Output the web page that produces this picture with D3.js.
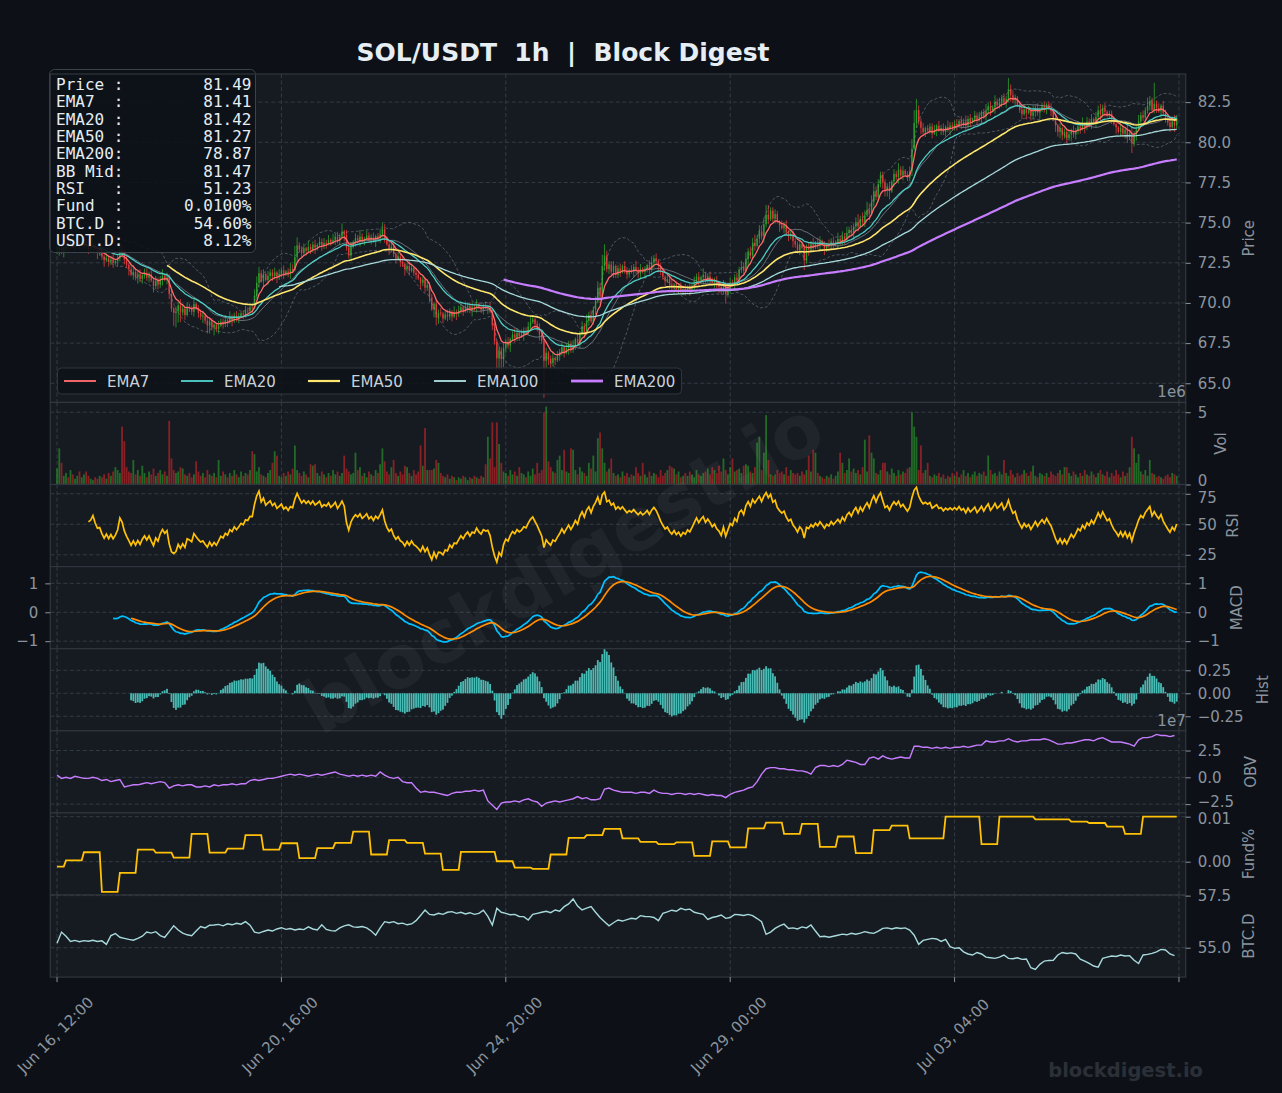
<!DOCTYPE html>
<html>
<head>
<meta charset="utf-8">
<script src="https://cdn.jsdelivr.net/npm/d3@7"></script>
<style>
  body { margin: 0; background: #0d1117; }
  svg { display: block; }
</style>
</head>
<body>
<svg id="chart" width="1282" height="1093"></svg>
<script>
// ---- data ---------------------------------------------------------------
// hourly closes, index 0 = Jun 16 12:00
var closes = [
  73.25,73.48,73.14,73.41,73.65,73.53,73.75,73.51,73.59,73.78,
  73.61,73.65,73.74,73.58,73.35,73.43,73.63,73.35,73.13,73.15,
  72.88,72.65,72.79,72.56,72.70,72.48,72.60,72.78,73.30,73.13,
  72.70,72.38,72.10,71.75,71.93,71.60,71.79,71.50,71.71,71.85,
  71.58,71.75,71.40,71.05,71.38,71.14,71.48,71.70,71.46,71.59,
  70.55,69.65,69.38,69.48,69.85,69.41,69.65,69.25,69.74,69.63,
  69.45,69.93,69.65,69.38,69.15,69.21,68.90,68.60,68.85,68.48,
  68.65,68.38,68.59,68.83,68.70,68.93,68.80,69.08,68.95,69.20,
  69.03,69.18,69.35,69.28,69.53,69.50,69.71,69.70,70.45,71.25,
  71.85,71.35,71.80,71.43,71.68,71.90,71.66,71.90,71.63,71.81,
  72.03,71.78,71.96,71.80,72.10,72.05,72.85,73.58,73.33,73.10,
  73.40,73.25,73.48,73.34,73.63,73.45,73.61,73.80,73.55,73.74,
  73.68,73.93,73.75,73.91,74.13,73.89,74.13,74.45,74.25,73.45,
  72.95,73.48,73.80,74.03,73.90,74.13,73.88,74.01,74.20,73.94,
  74.08,73.88,74.15,74.03,74.28,74.60,74.05,73.65,73.38,73.50,
  73.05,72.75,72.88,72.55,72.43,72.10,72.30,72.00,72.18,71.88,
  71.75,71.53,71.25,71.45,70.95,71.10,70.35,69.60,69.95,69.10,
  69.40,69.35,69.03,69.28,69.15,69.45,69.15,69.39,69.33,69.53,
  69.73,69.49,69.70,69.83,69.56,69.75,69.69,69.93,69.71,69.58,
  69.78,69.70,69.73,69.45,68.60,67.60,66.55,67.05,66.50,67.20,
  67.58,67.35,67.75,68.03,67.83,68.13,67.93,68.05,68.28,68.20,
  68.53,68.80,68.98,68.70,68.43,68.05,67.65,66.40,66.90,66.53,
  66.25,66.58,66.43,66.70,66.93,67.25,66.90,67.18,67.45,67.10,
  67.38,67.75,67.50,68.15,68.55,68.20,68.88,69.25,68.85,69.58,
  70.10,70.95,70.40,72.30,72.95,72.10,72.40,71.95,72.30,71.75,
  72.15,71.93,72.30,72.03,71.78,72.05,71.93,72.23,72.03,71.85,
  72.13,71.93,72.10,72.35,72.10,72.50,72.78,72.60,72.30,71.93,
  71.63,71.35,71.48,71.15,70.95,71.15,70.85,70.98,70.68,70.88,
  70.75,70.98,70.85,71.08,71.35,71.63,71.38,71.60,71.75,71.45,
  71.65,71.48,71.25,71.38,71.13,71.00,70.75,71.13,70.55,70.88,
  71.25,71.13,71.58,71.40,72.05,72.23,72.00,72.75,73.20,72.95,
  73.75,73.55,74.00,74.45,74.15,74.90,75.50,75.20,75.75,75.25,
  75.53,75.05,74.83,74.65,74.85,74.43,74.15,74.28,73.85,73.63,
  73.28,73.65,73.43,72.65,73.45,73.33,73.65,73.45,73.75,73.55,
  73.85,73.63,73.38,73.65,73.53,73.83,73.63,73.80,73.98,73.78,
  74.15,73.95,74.35,74.55,74.35,74.75,75.03,74.75,75.23,75.03,
  75.45,75.80,75.55,76.30,76.95,76.60,77.40,77.98,77.50,77.03,
  77.25,76.95,77.55,78.03,77.83,78.30,77.93,78.23,78.00,77.78,
  78.20,79.60,81.20,82.00,81.30,80.90,80.63,80.88,80.73,80.98,
  80.55,80.78,81.03,80.75,80.88,80.65,80.95,80.83,81.05,80.93,
  81.15,81.03,81.33,81.13,81.28,81.05,81.45,81.25,81.43,81.65,
  81.38,81.60,81.88,81.65,81.98,82.25,81.95,82.18,82.53,82.30,
  82.48,82.75,82.45,82.70,83.30,82.93,82.63,82.78,82.33,82.03,
  81.75,82.05,81.83,81.98,81.65,81.88,82.13,81.85,82.08,82.25,
  82.05,82.35,82.13,81.93,81.53,81.05,80.65,80.88,80.43,80.65,
  80.25,80.50,80.75,80.48,80.70,80.98,80.83,81.15,80.95,81.28,
  81.13,81.45,81.25,81.58,81.98,81.73,82.15,81.90,81.65,81.78,
  81.43,81.13,80.93,80.65,80.88,80.53,80.78,80.35,80.58,79.93,
  80.40,80.80,81.30,81.68,81.53,81.98,82.28,82.58,82.00,82.40,
  82.13,81.93,82.28,81.83,81.53,81.23,80.95,81.30,81.05,81.49
];

// wick length beyond the body, one base-36 char per candle, in 0.1 price units
var wickUp = [
  "3224132342","2313423124","2132241243","2312422313","3241322413",
  "2313242132","2412231322","2132231422","3212323144","4231322313",
  "2312437522","3142231323","2314232513","2313242132","2312343123",
  "2132312421","3212132213","2312321423","3142232312","2313121323",
  "2312431322","3421232131","2413231322","3141324232","3437732231",
  "2313213242","3121342312","2132312231","3121323142","2312321324",
  "3223243423","3524346622","3213231322","2312232413","3121323142",
  "3242323524","3544533222","2313242312","3687323122","2313231422",
  "2313242313","2312423142","3232733212","2313242312","3123121312",
  "2313232413","2313342312","2131321323","324232532d","2313213242"
].join("");
var wickDn = [
  "2313242132","3121323142","2413231323","3241324232","2314232413",
  "3289762312","2313242552","5231323142","2313232412","3141323242",
  "2312321323","2313242132","3121323142","2313242312","3142323142",
  "2313242312","3142323155","4231323142","2313242312","3141329775",
  "3241323142","2313242n54","4231323142","2313242312","3141323242",
  "2312321323","3142323142","2313242312","3141323242","2313242262",
  "3142323142","2313242312","3141323242","2316242312","3142323142",
  "2313242312","3141323244","4513242312","2313242312","3141323242",
  "2313242312","3142323142","2313242312","3141323242","2313243432",
  "3142323142","2313242312","3141323426","2313242312","3142323142"
].join("");

// hourly volume, in units of 1e5
var volumes = [
  11,25,15,6,8,5,10,7,4,6,   9,5,7,9,6,4,3,5,4,6,
  5,7,4,8,6,9,12,10,8,40,    30,12,9,8,17,7,10,6,13,8,
  5,9,7,11,6,8,10,7,9,6,     44,18,10,8,9,12,11,7,6,8,
  5,7,16,9,6,8,5,10,7,6,     8,5,17,6,9,7,5,8,6,10,
  7,5,9,6,8,7,10,23,21,9,    12,7,6,5,8,10,15,23,20,6,
  5,8,6,9,7,11,27,10,8,6,    9,7,5,14,13,14,8,6,9,7,
  5,8,6,10,7,9,6,8,20,11,    9,7,8,22,10,12,6,8,5,9,
  7,6,10,8,14,25,16,9,7,12,  17,8,6,9,7,13,12,8,6,10,
  7,9,27,13,39,10,10,10,11,17, 15,8,6,5,7,4,6,5,3,5,
  4,6,5,3,5,4,6,5,4,6,       5,14,33,18,43,12,43,28,15,9,
  8,6,10,7,9,6,12,8,7,5,     9,6,11,7,15,8,10,50,54,16,
  12,9,8,17,20,10,24,9,8,25, 24,10,7,12,9,8,6,15,11,20,
  9,32,36,25,15,9,11,18,8,6, 7,5,9,6,8,5,7,6,12,8,
  6,15,7,5,9,6,8,7,5,10,     6,8,10,13,12,11,7,9,5,6,
  8,6,9,7,5,10,7,6,8,9,      11,7,12,10,8,13,9,18,10,7,
  12,18,9,10,11,8,13,14,13,9, 8,12,29,33,10,22,48,17,7,6,
  7,10,8,9,7,12,6,10,8,7,    8,6,9,7,10,20,9,24,22,8,
  6,5,4,6,5,7,4,6,9,22,      15,8,10,18,9,11,8,10,7,12,
  31,9,34,22,18,8,7,10,15,15, 9,7,11,8,6,10,7,9,8,11,
  12,50,40,33,10,27,8,10,15,6, 5,7,6,8,5,7,4,6,5,8,
  6,9,5,7,10,6,8,5,7,9,      6,8,7,9,6,20,10,7,8,6,
  9,7,17,8,6,10,7,5,8,6,     7,10,8,6,9,13,6,5,8,7,
  6,8,5,9,7,6,8,10,7,12,     12,8,6,9,7,5,8,6,10,7,
  6,9,7,5,8,10,7,6,9,5,      8,6,10,7,5,9,6,8,12,33,
  25,15,21,9,7,10,6,17,8,7,  5,6,5,4,6,7,5,8,7,6
];

// OBV every 2 hours, in units of 1e6
var obv2h = [
  2,-1,0,-1,1,0,-1,-1,0,-1,  -3,-2,-4,-3,-2,-9,-8,-7,-7,-6,
  -5,-6,-5,-4,-5,-10,-8,-7,-8,-7, -7,-9,-9,-8,-9,-7,-8,-7,-7,-6,
  -7,-6,-6,-3,-2,-3,-2,-1,-1,0,  1,2,3,2,3,2,1,2,3,2,
  3,4,5,3,2,1,2,1,2,1,  2,1,5,2,0,-1,0,-4,-5,-5,
  -10,-14,-13,-14,-14,-15,-16,-17,-15,-14,  -14,-13,-13,-12,-13,-12,-22,-26,-30,-24,
  -23,-23,-22,-23,-21,-20,-22,-23,-27,-24,  -23,-22,-23,-22,-21,-20,-18,-20,-19,-21,
  -21,-20,-11,-10,-12,-13,-14,-14,-14,-15,  -14,-14,-15,-12,-14,-15,-15,-16,-15,-15,
  -16,-15,-16,-15,-16,-17,-16,-17,-17,-19,  -16,-14,-13,-12,-10,-9,-4,3,8,9,
  9,8,8,7,7,6,6,5,3,9,  11,11,10,11,10,12,16,15,14,12,
  12,18,19,17,20,18,17,18,19,18,  18,29,29,28,28,27,28,27,28,27,
  28,28,29,28,29,30,30,34,33,33,  34,34,36,34,33,34,34,35,35,35,
  36,35,33,31,31,32,32,33,34,35,  35,34,36,37,35,33,33,33,32,31,
  29,35,37,37,38,40,39,39,38,39
];

// BTC dominance every 2 hours, %
var btcd2h = [
  55.21,55.75,55.55,55.30,55.35,55.29,55.34,55.31,55.36,55.30,
  55.33,55.16,55.58,55.68,55.50,55.45,55.40,55.36,55.45,55.55,
  55.75,55.70,55.77,55.58,55.50,55.77,56.05,55.85,55.70,55.62,
  55.58,55.80,56.02,55.95,56.08,56.09,56.12,56.05,56.15,56.10,
  56.17,56.13,56.25,56.08,55.75,55.70,55.78,55.85,55.80,55.90,
  55.96,55.88,55.92,55.85,55.90,55.87,56.00,55.90,55.85,56.10,
  55.88,55.82,55.80,55.95,56.05,56.10,56.00,55.98,56.02,55.95,
  55.80,55.60,55.95,56.25,56.20,56.25,56.15,56.18,56.10,56.14,
  56.30,56.55,56.81,56.60,56.57,56.65,56.60,56.70,56.73,56.65,
  56.70,56.62,56.68,56.60,56.65,56.80,56.50,56.09,56.89,56.70,
  56.65,56.58,56.60,56.50,56.49,56.33,56.60,56.65,56.70,56.75,
  56.68,56.81,56.75,56.97,57.10,57.34,57.00,56.81,56.90,56.97,
  56.70,56.45,56.25,56.05,56.20,56.33,56.28,56.35,56.41,56.38,
  56.54,56.50,56.49,56.45,56.30,56.65,56.72,56.80,56.75,56.89,
  56.82,56.85,56.70,56.65,56.60,56.36,56.45,56.50,56.57,56.41,
  56.45,56.60,56.58,56.55,56.60,56.54,56.40,56.25,55.64,55.75,
  55.93,56.05,56.13,55.92,55.95,55.90,56.00,55.95,56.09,55.80,
  55.53,55.55,55.50,55.55,55.60,55.65,55.62,55.69,55.65,55.70,
  55.77,55.72,55.69,55.80,55.93,55.95,55.90,55.96,55.92,55.95,
  55.85,55.60,55.16,55.35,55.40,55.45,55.42,55.30,55.40,55.05,
  54.97,55.00,54.80,54.70,54.65,54.77,54.70,54.55,54.52,54.49,
  54.55,54.65,54.49,54.47,54.52,54.44,54.46,54.04,53.96,54.20,
  54.36,54.39,54.40,54.65,54.77,54.72,54.75,54.70,54.45,54.36,
  54.25,54.12,54.07,54.49,54.55,54.60,54.58,54.65,54.60,54.62,
  54.40,54.24,54.65,54.68,54.73,54.80,54.92,54.89,54.70,54.62
];

// funding rate (%) per 8h period; first period covers hours 0-3
var funding8h = [
  -0.0011,0.0003,0.0021,-0.0067,-0.0025,0.0027,0.0020,0.0009,0.0062,0.0020,
  0.0029,0.0059,0.0027,0.0041,0.0008,0.0030,0.0042,0.0067,0.0016,0.0048,
  0.0042,0.0018,-0.0018,0.0022,0.0022,0.0001,-0.0013,-0.0016,0.0016,0.0053,
  0.0059,0.0073,0.0052,0.0044,0.0039,0.0043,0.0013,0.0045,0.0032,0.0074,
  0.0087,0.0062,0.0084,0.0033,0.0056,0.0019,0.0070,0.0080,0.0052,0.0052,
  0.0100,0.0100,0.0039,0.0100,0.0100,0.0094,0.0094,0.0089,0.0086,0.0078,
  0.0062,0.0100,0.0100
];

var tickIndex = [0, 100, 200, 300, 400, 500];
var tickLabels = ["Jun 16, 12:00", "Jun 20, 16:00", "Jun 24, 20:00", "Jun 29, 00:00", "Jul 03, 04:00", ""];

var emaNames = ["EMA7", "EMA20", "EMA50", "EMA100", "EMA200"];
var emaSpans = [7, 20, 50, 100, 200];
var emaColors = ["#ff6b6b", "#4ecdc4", "#ffe66d", "#a8dadc", "#c77dff"];
var emaWidths = [1.3, 1.3, 1.6, 1.3, 2.2];

var infoLabels = ["Price :", "EMA7  :", "EMA20 :", "EMA50 :", "EMA200:", "BB Mid:", "RSI   :", "Fund  :", "BTC.D :", "USDT.D:"];
var infoValues = ["81.49", "81.41", "81.42", "81.27", "78.87", "81.47", "51.23", "0.0100%", "54.60%", "8.12%"];

// ---- indicators ------------------------------------------------------------
var N = closes.length;
var opens = closes.map(function (c, i) { return i === 0 ? c : closes[i - 1]; });
var highs = closes.map(function (c, i) { return Math.max(c, opens[i]) + parseInt(wickUp[i], 36) / 10; });
var lows = closes.map(function (c, i) { return Math.min(c, opens[i]) - parseInt(wickDn[i], 36) / 10; });

function ema(arr, span, start) {
  var a = 2 / (span + 1), out = arr.map(function () { return null; }), prev = null;
  for (var i = start; i < arr.length; i++) {
    prev = prev === null ? arr[i] : a * arr[i] + (1 - a) * prev;
    out[i] = prev;
  }
  return out.map(function (v, i) { return i >= start + span - 1 ? v : null; });
}
function emaRaw(arr, span) {
  var a = 2 / (span + 1), out = [], prev = arr[0];
  arr.forEach(function (v, i) { prev = i === 0 ? v : a * v + (1 - a) * prev; out.push(prev); });
  return out;
}

var emas = emaSpans.map(function (s) { return ema(closes, s, 0); });

var bbMid = [], bbUp = [], bbLo = [];
for (var i = 0; i < N; i++) {
  if (i < 19) { bbMid.push(null); bbUp.push(null); bbLo.push(null); continue; }
  var win = closes.slice(i - 19, i + 1);
  var m = d3.mean(win), sd = d3.deviation(win);
  bbMid.push(m); bbUp.push(m + 2 * sd); bbLo.push(m - 2 * sd);
}

var rsi = closes.map(function () { return null; });
(function () {
  var g = 0, l = 0;
  for (var i = 1; i <= 14; i++) {
    var d = closes[i] - closes[i - 1];
    g += Math.max(d, 0); l += Math.max(-d, 0);
  }
  g /= 14; l /= 14;
  rsi[14] = 100 - 100 / (1 + g / l);
  for (var j = 15; j < N; j++) {
    var dd = closes[j] - closes[j - 1];
    g = (g * 13 + Math.max(dd, 0)) / 14;
    l = (l * 13 + Math.max(-dd, 0)) / 14;
    rsi[j] = l === 0 ? 100 : 100 - 100 / (1 + g / l);
  }
})();

var e12 = emaRaw(closes, 12), e26 = emaRaw(closes, 26);
var macd = closes.map(function (c, i) { return i >= 25 ? e12[i] - e26[i] : null; });
var signal = ema(macd.map(function (v) { return v === null ? 0 : v; }), 9, 25);
var hist = macd.map(function (v, i) { return signal[i] === null ? null : v - signal[i]; });

var fundHourly = closes.map(function (c, i) {
  return funding8h[i < 4 ? 0 : 1 + Math.floor((i - 4) / 8)];
});

// ---- layout ------------------------------------------------------------------
var W = 1282, H = 1093;
var svg = d3.select("#chart");
svg.append("rect").attr("width", W).attr("height", H).attr("fill", "#0d1117");

var x = d3.scaleLinear().domain([-3, 503]).range([50.3, 1185.7]);
var X0 = x.range()[0], X1 = x.range()[1];

var ratios = [4, 1, 1, 1, 1, 1, 1, 1];
var top0 = 74, bottom0 = 977.1;
var unit = (bottom0 - top0) / d3.sum(ratios);
var acc = top0;
var bands = ratios.map(function (r) { var b = [acc, acc + r * unit]; acc += r * unit; return b; });

function minus(s) { return String(s).replace("-", "\u2212"); }

// nudge: small vertical shifts of tick labels that sit on a panel edge
var panels = [
  { label: "Price", domain: [63.81, 84.25], ticks: [65, 67.5, 70, 72.5, 75, 77.5, 80, 82.5], fmt: d3.format(".1f"), labelX: 1249 },
  { label: "Vol", domain: [0, 5.68e6], ticks: [0, 5e6], fmt: function (d) { return String(d / 1e6); }, labelX: 1221, offset: "1e6", nudge: { 0: -4 } },
  { label: "RSI", domain: [15.3, 82.6], ticks: [25, 50, 75], fmt: d3.format("d"), labelX: 1233, nudge: { 75: 3.5 } },
  { label: "MACD", domain: [-1.26, 1.58], ticks: [-1, 0, 1], fmt: d3.format("d"), labelX: 1237, left: true },
  { label: "Hist", domain: [-0.408, 0.485], ticks: [-0.25, 0, 0.25], fmt: d3.format(".2f"), labelX: 1263 },
  { label: "OBV", domain: [-3.32e7, 4.34e7], ticks: [-2.5e7, 0, 2.5e7], fmt: function (d) { return minus((d / 1e7).toFixed(1)); }, labelX: 1251, offset: "1e7", nudge: { "-25000000": -2 } },
  { label: "Fund%", domain: [-0.0074, 0.01084], ticks: [0, 0.01], fmt: d3.format(".2f"), labelX: 1249, nudge: { "0.01": 2.5 } },
  { label: "BTC.D", domain: [53.59, 57.53], ticks: [55, 57.5], fmt: d3.format(".1f"), labelX: 1249 }
];

var grey = "#8b949e";
var font = "DejaVu Sans, Verdana, sans-serif";

var defs = svg.append("defs");

panels.forEach(function (p, k) {
  var b = bands[k];
  p.y = d3.scaleLinear().domain(p.domain).range([b[1], b[0]]);
  p.g = svg.append("g");
  p.g.append("rect").attr("x", X0).attr("y", b[0]).attr("width", X1 - X0).attr("height", b[1] - b[0])
    .attr("fill", "#161b22");
  defs.append("clipPath").attr("id", "clip" + k).append("rect")
    .attr("x", X0).attr("y", b[0]).attr("width", X1 - X0).attr("height", b[1] - b[0]);

  var grid = p.g.append("g").attr("stroke", "#3b424b").attr("stroke-width", 0.8).attr("stroke-dasharray", "4,2.5");
  grid.selectAll("line.h").data(p.ticks).enter().append("line")
    .attr("x1", X0).attr("x2", X1)
    .attr("y1", function (d) { return p.y(d); }).attr("y2", function (d) { return p.y(d); });
  grid.selectAll("line.v").data(tickIndex).enter().append("line")
    .attr("y1", b[0]).attr("y2", b[1])
    .attr("x1", function (d) { return x(d); }).attr("x2", function (d) { return x(d); });

  p.plot = p.g.append("g").attr("clip-path", "url(#clip" + k + ")");
});

function styleAxis(p) {
  return function (g) {
    g.select(".domain").remove();
    g.selectAll(".tick line").attr("stroke", grey);
    g.selectAll(".tick text").attr("fill", grey).attr("font-size", 15).attr("font-family", font)
      .attr("transform", function (d) {
        var n = p.nudge && p.nudge[String(d)];
        return n ? "translate(0," + n + ")" : null;
      });
  };
}

// ---- price panel -------------------------------------------------------------
var pp = panels[0], yP = pp.y;
var lineGen = function (y) {
  return d3.line().defined(function (d) { return d !== null; })
    .x(function (d, i) { return x(i); }).y(function (d) { return y(d); });
};

var candles = pp.plot.append("g");
candles.selectAll("line").data(closes).enter().append("line")
  .attr("x1", function (d, i) { return x(i); }).attr("x2", function (d, i) { return x(i); })
  .attr("y1", function (d, i) { return yP(highs[i]); }).attr("y2", function (d, i) { return yP(lows[i]); })
  .attr("stroke", function (d, i) { return d >= opens[i] ? "#2ca02c" : "#e0393a"; })
  .attr("stroke-width", 0.8);
candles.selectAll("rect").data(closes).enter().append("rect")
  .attr("x", function (d, i) { return x(i) - 0.7; })
  .attr("width", 1.4)
  .attr("y", function (d, i) { return yP(Math.max(d, opens[i])); })
  .attr("height", function (d, i) { return Math.max(0.8, Math.abs(yP(d) - yP(opens[i]))); })
  .attr("fill", function (d, i) { return d >= opens[i] ? "#2ca02c" : "#e0393a"; });

[bbUp, bbLo].forEach(function (arr) {
  pp.plot.append("path").datum(arr).attr("d", lineGen(yP))
    .attr("fill", "none").attr("stroke", grey).attr("stroke-opacity", 0.55)
    .attr("stroke-width", 0.9).attr("stroke-dasharray", "3,2");
});
pp.plot.append("path").datum(bbMid).attr("d", lineGen(yP))
  .attr("fill", "none").attr("stroke", grey).attr("stroke-opacity", 0.7).attr("stroke-width", 1);

emas.forEach(function (arr, k) {
  pp.plot.append("path").datum(arr).attr("d", lineGen(yP))
    .attr("fill", "none").attr("stroke", emaColors[k]).attr("stroke-width", emaWidths[k]);
});

// legend
var lg = pp.g.append("g");
lg.append("rect").attr("x", 57.5).attr("y", 368).attr("width", 624).attr("height", 26).attr("rx", 4)
  .attr("fill", "#0d1117").attr("fill-opacity", 0.85).attr("stroke", "#30363d");
var legX = [64, 181, 308, 434, 571];
emaNames.forEach(function (n, k) {
  lg.append("line").attr("x1", legX[k]).attr("x2", legX[k] + 32).attr("y1", 381).attr("y2", 381)
    .attr("stroke", emaColors[k]).attr("stroke-width", emaWidths[k] + 0.6);
  lg.append("text").attr("x", legX[k] + 43).attr("y", 386.5).text(n)
    .attr("fill", "#c9d1d9").attr("font-size", 15).attr("font-family", font);
});

// info box
var ib = pp.g.append("g");
ib.append("rect").attr("x", 49.5).attr("y", 69.5).attr("width", 206).attr("height", 183).attr("rx", 5)
  .attr("fill", "#0d1117").attr("fill-opacity", 0.88).attr("stroke", "#3b424b");
infoLabels.forEach(function (l, k) {
  var yy = 89.8 + k * 17.35;
  ib.append("text").attr("x", 56).attr("y", yy).text(l).style("white-space", "pre")
    .attr("fill", "#e6edf3").attr("font-size", 16).attr("font-family", "DejaVu Sans Mono, monospace");
  ib.append("text").attr("x", 251.5).attr("y", yy).attr("text-anchor", "end").text(infoValues[k])
    .attr("fill", "#e6edf3").attr("font-size", 16).attr("font-family", "DejaVu Sans Mono, monospace");
});

// ---- volume ------------------------------------------------------------------
var pv = panels[1];
pv.plot.selectAll("rect").data(volumes).enter().append("rect")
  .attr("x", function (d, i) { return x(i) - 0.9; })
  .attr("width", 1.8)
  .attr("y", function (d) { return pv.y(d * 1e5); })
  .attr("height", function (d) { return pv.y(0) - pv.y(d * 1e5); })
  .attr("fill", function (d, i) { return closes[i] >= opens[i] ? "#2ca02c" : "#d62728"; })
  .attr("fill-opacity", 0.6);

// ---- RSI ---------------------------------------------------------------------
var pr = panels[2];
pr.plot.append("path").datum(rsi).attr("d", lineGen(pr.y))
  .attr("fill", "none").attr("stroke", "#ffc107").attr("stroke-width", 1.7);

// ---- MACD --------------------------------------------------------------------
var pm = panels[3];
pm.plot.append("path").datum(macd).attr("d", lineGen(pm.y))
  .attr("fill", "none").attr("stroke", "#00bfff").attr("stroke-width", 1.7);
pm.plot.append("path").datum(signal).attr("d", lineGen(pm.y))
  .attr("fill", "none").attr("stroke", "#ff8c00").attr("stroke-width", 1.7);

// ---- histogram ---------------------------------------------------------------
var ph = panels[4];
var histPts = hist.map(function (v, i) { return { i: i, v: v }; }).filter(function (d) { return d.v !== null; });
ph.plot.selectAll("rect").data(histPts).enter().append("rect")
  .attr("x", function (d) { return x(d.i) - 0.9; })
  .attr("width", 1.8)
  .attr("y", function (d) { return ph.y(Math.max(d.v, 0)); })
  .attr("height", function (d) { return Math.abs(ph.y(d.v) - ph.y(0)); })
  .attr("fill", "#4ecdc4").attr("fill-opacity", 0.9);

// ---- OBV ---------------------------------------------------------------------
var po = panels[5];
po.plot.append("path").datum(obv2h)
  .attr("d", d3.line().x(function (d, k) { return x(2 * k); }).y(function (d) { return po.y(d * 1e6); }))
  .attr("fill", "none").attr("stroke", "#c77dff").attr("stroke-width", 1.4);

// ---- funding -----------------------------------------------------------------
var pf = panels[6];
pf.plot.append("path").datum(fundHourly).attr("d", lineGen(pf.y))
  .attr("fill", "none").attr("stroke", "#ffc107").attr("stroke-width", 1.8);

// ---- BTC dominance -----------------------------------------------------------
var pb = panels[7];
pb.plot.append("path").datum(btcd2h)
  .attr("d", d3.line().x(function (d, k) { return x(2 * k); }).y(function (d) { return pb.y(d); }))
  .attr("fill", "none").attr("stroke", "#a8dadc").attr("stroke-width", 1.4);

// ---- frames, axes, labels ----------------------------------------------------
panels.forEach(function (p, k) {
  var b = bands[k];
  p.g.append("rect").attr("x", X0).attr("y", b[0]).attr("width", X1 - X0).attr("height", b[1] - b[0])
    .attr("fill", "none").attr("stroke", "#30363d").attr("stroke-width", 1.2);
  p.g.append("g").attr("transform", "translate(" + X1 + ",0)")
    .call(d3.axisRight(p.y).tickValues(p.ticks).tickFormat(p.fmt).tickSize(5).tickPadding(7))
    .call(styleAxis(p));
  if (p.left) {
    p.g.append("g").attr("transform", "translate(" + X0 + ",0)")
      .call(d3.axisLeft(p.y).tickValues(p.ticks).tickFormat(p.fmt).tickSize(5).tickPadding(7))
      .call(styleAxis(p));
  }
  p.g.append("text")
    .attr("transform", "translate(" + p.labelX + "," + ((b[0] + b[1]) / 2) + ") rotate(-90)")
    .attr("text-anchor", "middle").attr("dy", "0.35em").text(p.label)
    .attr("fill", grey).attr("font-size", 15).attr("font-family", font);
  if (p.offset) {
    p.g.append("text").attr("x", X1).attr("y", b[0] - 5).attr("text-anchor", "end").text(p.offset)
      .attr("fill", grey).attr("font-size", 15).attr("font-family", font);
  }
});

// bottom time axis
var xa = svg.append("g");
xa.selectAll("line").data(tickIndex).enter().append("line")
  .attr("x1", function (d) { return x(d); }).attr("x2", function (d) { return x(d); })
  .attr("y1", bottom0).attr("y2", bottom0 + 5).attr("stroke", grey);
xa.selectAll("text").data(tickIndex).enter().append("text")
  .attr("transform", function (d) { return "translate(" + (x(d) - 1.5) + ",1035) rotate(-45)"; })
  .attr("text-anchor", "middle").attr("dy", "0.35em")
  .text(function (d, k) { return tickLabels[k]; })
  .attr("fill", grey).attr("font-size", 15).attr("font-family", font);

// title
svg.append("text").attr("x", 563).attr("y", 61).attr("text-anchor", "middle")
  .text("SOL/USDT  1h  |  Block Digest").style("white-space", "pre")
  .attr("fill", "#e6edf3").attr("font-size", 25).attr("font-weight", "bold").attr("font-family", font);

// watermarks
svg.append("text").attr("transform", "translate(562,567) rotate(-30)")
  .attr("text-anchor", "middle").attr("dy", "0.35em").text("blockdigest.io")
  .attr("fill", "#ffffff").attr("fill-opacity", 0.045)
  .attr("font-size", 74).attr("font-weight", "bold").attr("font-family", font);
svg.append("text").attr("x", 1203).attr("y", 1077).attr("text-anchor", "end").text("blockdigest.io")
  .attr("fill", "#2b3038").attr("font-size", 19.5).attr("font-weight", "bold").attr("font-family", font);
</script>
</body>
</html>
